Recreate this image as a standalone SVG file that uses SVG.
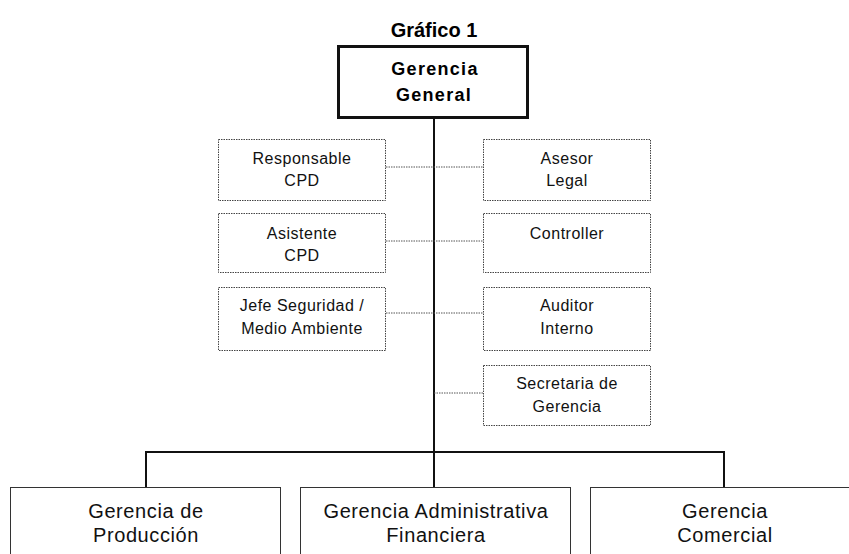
<svg xmlns="http://www.w3.org/2000/svg" width="849" height="554" viewBox="0 0 849 554">
<style>
text{font-family:"Liberation Sans",Arial,sans-serif;fill:#111;text-anchor:middle}
.t{font-size:16px;letter-spacing:0.5px}
.b{font-size:20px;letter-spacing:0.6px}
.h{font-size:18px;font-weight:bold;letter-spacing:1.3px;fill:#000}
.dot{fill:#fff;stroke:#444;stroke-width:1;stroke-dasharray:1.5 1}
.sol{fill:#fff;stroke:#333;stroke-width:1}
.dl{stroke:#555;stroke-width:1;stroke-dasharray:1.5 1;fill:none}
.ml{stroke:#111;stroke-width:2;fill:none}
</style>
<rect width="849" height="554" fill="#fff"/>
<text x="434" y="37" style="font-size:20px;font-weight:bold;fill:#000">Gráfico 1</text>
<g id="connectors">
<path class="ml" d="M434 118V452M146 452H724M146 451V487M434 451V487M724 451V487"/>
<path class="dl" d="M386 167H483M386 241H483M386 313H483M434 393H483"/>
</g>
<g id="n-gerencia-general">
<rect x="338.5" y="46.5" width="189" height="71" fill="#fff" stroke="#111" stroke-width="3"/>
<text class="h" x="435" y="75">Gerencia</text>
<text class="h" x="434" y="101">General</text>
</g>
<g id="n-responsable-cpd">
<rect class="dot" x="218.5" y="139.5" width="167" height="61"/>
<text class="t" x="302" y="164">Responsable</text>
<text class="t" x="302" y="186">CPD</text>
</g>
<g id="n-asistente-cpd">
<rect class="dot" x="218.5" y="213.5" width="167" height="59"/>
<text class="t" x="302" y="239">Asistente</text>
<text class="t" x="302" y="261">CPD</text>
</g>
<g id="n-jefe-seguridad">
<rect class="dot" x="218.5" y="287.5" width="167" height="63"/>
<text class="t" x="302" y="311">Jefe Seguridad /</text>
<text class="t" x="302" y="334">Medio Ambiente</text>
</g>
<g id="n-asesor-legal">
<rect class="dot" x="483.5" y="139.5" width="167" height="61"/>
<text class="t" x="567" y="164">Asesor</text>
<text class="t" x="567" y="186">Legal</text>
</g>
<g id="n-controller">
<rect class="dot" x="483.5" y="213.5" width="167" height="59"/>
<text class="t" x="567" y="239">Controller</text>
</g>
<g id="n-auditor-interno">
<rect class="dot" x="483.5" y="287.5" width="167" height="63"/>
<text class="t" x="567" y="311">Auditor</text>
<text class="t" x="567" y="334">Interno</text>
</g>
<g id="n-secretaria">
<rect class="dot" x="483.5" y="365.5" width="167" height="60"/>
<text class="t" x="567" y="389">Secretaria de</text>
<text class="t" x="567" y="412">Gerencia</text>
</g>
<g id="n-produccion">
<rect class="sol" x="10.5" y="487.5" width="270" height="80"/>
<text class="b" x="146" y="518">Gerencia de</text>
<text class="b" x="146" y="542">Producción</text>
</g>
<g id="n-administrativa">
<rect class="sol" x="300.5" y="487.5" width="270" height="80"/>
<text class="b" x="436" y="518">Gerencia Administrativa</text>
<text class="b" x="436" y="542">Financiera</text>
</g>
<g id="n-comercial">
<rect class="sol" x="590.5" y="487.5" width="270" height="80"/>
<text class="b" x="725" y="518">Gerencia</text>
<text class="b" x="725" y="542">Comercial</text>
</g>
</svg>
